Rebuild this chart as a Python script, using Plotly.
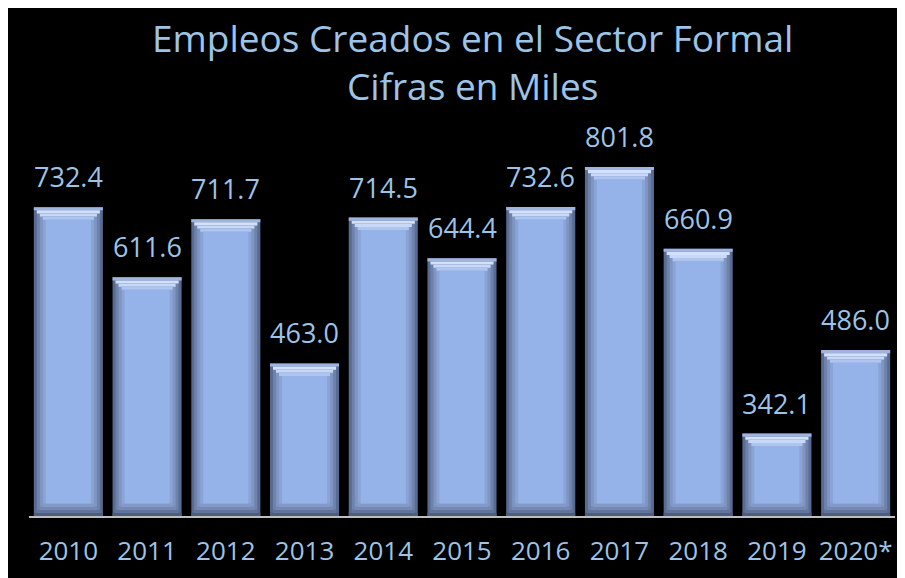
import plotly.graph_objects as go

years = ["2010", "2011", "2012", "2013", "2014", "2015", "2016", "2017", "2018", "2019", "2020*"]
values = [732.4, 611.6, 711.7, 463.0, 714.5, 644.4, 732.6, 801.8, 660.9, 342.1, 486.0]
labels = [f"{v:.1f}" for v in values]

Y_MIN, Y_MAX = 200, 900

TEXT_COLOR = "#9DC3E6"
FONT = "Open Sans"

# bevel styling (stepped layers)
STEP = 5.4            # vertical step in data units (~3 px)
W0, DW = 0.877, 0.076  # outer width and width decrement per layer
SIDE = ["#5A6B91", "#6E82AC", "#7F95C2", "#8BA4D6"]
TOP = ["#9FB5E0", "#D3E0F9", "#C8D8F7", "#AEC5F0"]
BOT = ["#4E5D7E", "#61739A", "#7488B3", "#8399C8"]
FACE = "#95B3E8"

fig = go.Figure()
for k in range(4):
    w = W0 - k * DW
    ins = k * STEP
    fig.add_trace(go.Bar(x=years, y=[v - Y_MIN - 2 * ins for v in values], base=Y_MIN + ins,
                         width=w, marker=dict(color=SIDE[k], line=dict(width=0)),
                         hoverinfo="skip"))
    fig.add_trace(go.Bar(x=years, y=[STEP] * len(values), base=[v - ins - STEP for v in values],
                         width=w, marker=dict(color=TOP[k], line=dict(width=0)),
                         hoverinfo="skip"))
    fig.add_trace(go.Bar(x=years, y=[STEP] * len(values), base=Y_MIN + ins,
                         width=w, marker=dict(color=BOT[k], line=dict(width=0)),
                         hoverinfo="skip"))
fig.add_trace(go.Bar(x=years, y=[v - Y_MIN - 8 * STEP for v in values], base=Y_MIN + 4 * STEP,
                     width=W0 - 4 * DW, marker=dict(color=FACE, line=dict(width=0)),
                     hovertemplate="%{x}: %{customdata}<extra></extra>", customdata=labels))

for i, (v, lab) in enumerate(zip(values, labels)):
    fig.add_annotation(x=i, y=v, text=lab, showarrow=False, yanchor="bottom",
                       yshift=10, font=dict(family=FONT, size=27, color=TEXT_COLOR))

fig.update_layout(
    barmode="overlay",
    paper_bgcolor="black",
    plot_bgcolor="black",
    width=897, height=570,
    margin=dict(l=21, r=10, t=102, b=59),
    showlegend=False,
    title=dict(text="Empleos Creados en el Sector Formal<br>Cifras en Miles",
               x=0.518, xanchor="center", y=0.9225, yanchor="middle",
               font=dict(family=FONT, size=37, color=TEXT_COLOR)),
    xaxis=dict(type="category", range=[-0.5, len(years) - 0.5], showgrid=False,
               zeroline=False, showline=True,
               linecolor="#BFBFBF", linewidth=2, ticks="", ticklen=0,
               ticklabelstandoff=11,
               tickfont=dict(family=FONT, size=26, color=TEXT_COLOR)),
    yaxis=dict(range=[Y_MIN, Y_MAX], visible=False, showgrid=False, zeroline=False),
)

fig.write_html("out.html")
